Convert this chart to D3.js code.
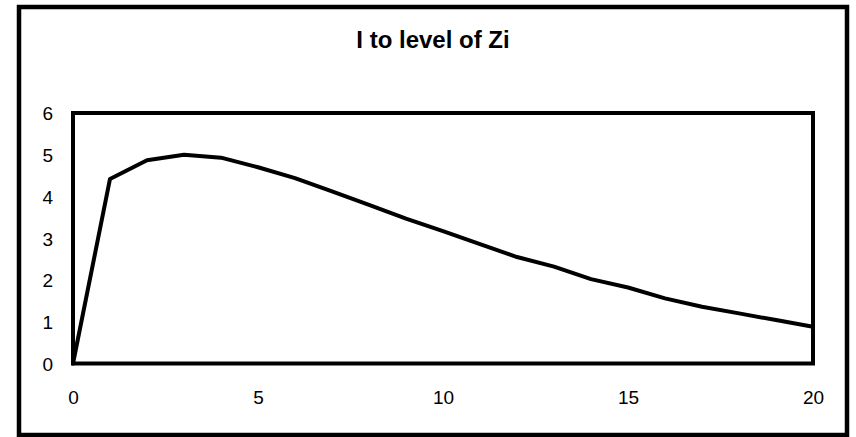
<!DOCTYPE html>
<html>
<head>
<meta charset="utf-8">
<script src="https://cdn.jsdelivr.net/npm/d3@7/dist/d3.min.js"></script>
<style>
  html, body { margin: 0; padding: 0; background: #fff; }
  svg { display: block; }
  text { font-family: "Liberation Sans", Arial, sans-serif; fill: #000; }
</style>
</head>
<body>
<svg id="chart" width="856" height="437"></svg>
<script>
// ---- data ----
const title = "I to level of Zi";
const xValues = [0,1,2,3,4,5,6,7,8,9,10,11,12,13,14,15,16,17,18,19,20];
const yValues = [0,4.42,4.87,5.0,4.93,4.70,4.44,4.12,3.80,3.47,3.17,2.86,2.55,2.32,2.02,1.82,1.56,1.36,1.20,1.04,0.88];
const xTicks = [0,5,10,15,20];
const yTicks = [0,1,2,3,4,5,6];

// ---- layout ----
const W = 856, H = 437;
const outer = {x0: 19, y0: 7, x1: 847, y1: 435};
const plot = {x0: 73, y0: 113, x1: 813, y1: 363.5};

const svg = d3.select("#chart");

svg.append("rect")
  .attr("x", outer.x0).attr("y", outer.y0)
  .attr("width", outer.x1 - outer.x0).attr("height", outer.y1 - outer.y0)
  .attr("fill", "#fff").attr("stroke", "#000").attr("stroke-width", 4.5);

const x = d3.scaleLinear().domain([0, 20]).range([plot.x0, plot.x1]);
const y = d3.scaleLinear().domain([0, 6]).range([plot.y1, plot.y0]);

svg.append("text")
  .attr("x", (outer.x0 + outer.x1) / 2).attr("y", 48)
  .attr("text-anchor", "middle")
  .style("font-size", "24px").style("font-weight", "bold")
  .text(title);

// axes (labels only)
const yAxis = svg.append("g")
  .attr("transform", `translate(${plot.x0 - 20},0)`)
  .call(d3.axisLeft(y).tickValues(yTicks).tickSize(0).tickPadding(0).tickFormat(d3.format("d")));
yAxis.select(".domain").remove();
yAxis.selectAll("text").style("font-size", "19px")
  .attr("font-family", null).attr("dy", "0.36em");

const xAxis = svg.append("g")
  .attr("transform", `translate(0,${plot.y1 + 34})`)
  .call(d3.axisBottom(x).tickValues(xTicks).tickSize(0).tickPadding(0).tickFormat(d3.format("d")));
xAxis.select(".domain").remove();
xAxis.selectAll("text").style("font-size", "19px")
  .attr("font-family", null).attr("dy", "0.36em");

// plot border
svg.append("rect")
  .attr("x", plot.x0).attr("y", plot.y0)
  .attr("width", plot.x1 - plot.x0).attr("height", plot.y1 - plot.y0)
  .attr("fill", "none").attr("stroke", "#000").attr("stroke-width", 4);

// line
const data = xValues.map((v, i) => ({x: v, y: yValues[i]}));
svg.append("path")
  .datum(data)
  .attr("fill", "none").attr("stroke", "#000").attr("stroke-width", 4)
  .attr("stroke-linejoin", "round").attr("stroke-linecap", "round")
  .attr("d", d3.line().x(d => x(d.x)).y(d => y(d.y)));
</script>
</body>
</html>
